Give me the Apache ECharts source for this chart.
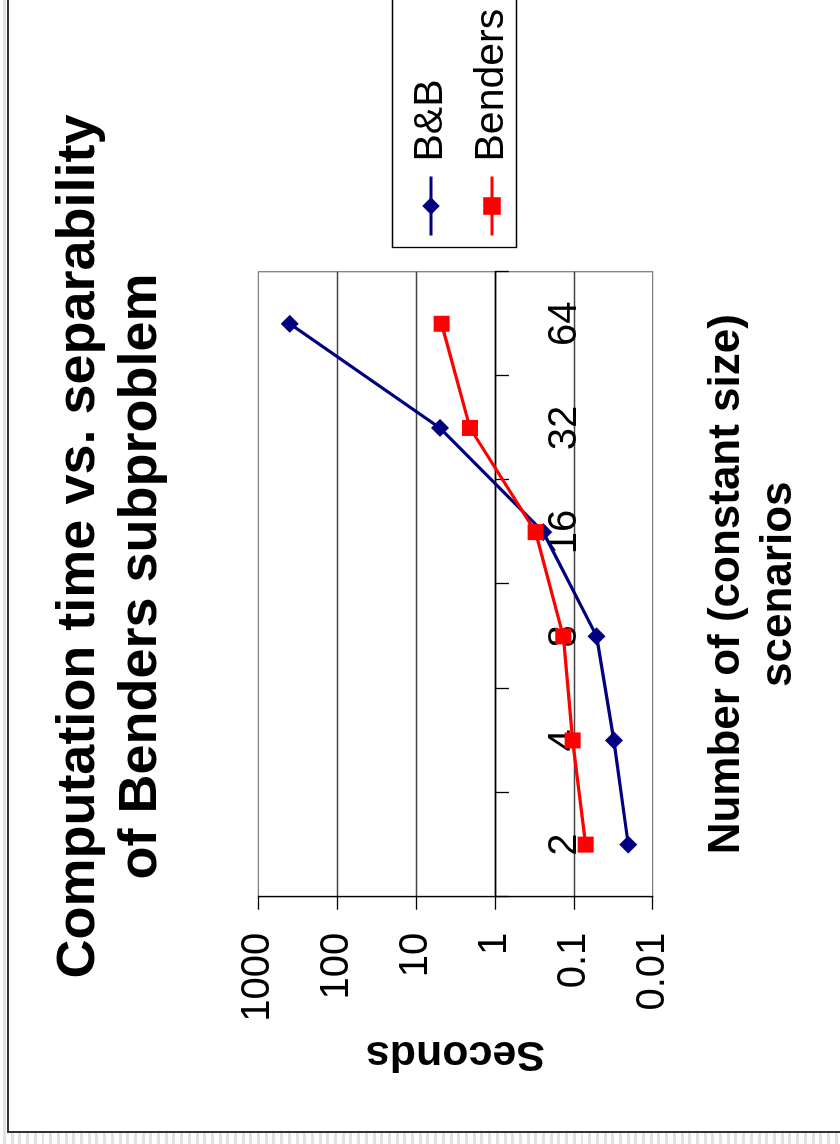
<!DOCTYPE html>
<html>
<head>
<meta charset="utf-8">
<script src="https://cdn.jsdelivr.net/npm/echarts@6/dist/echarts.min.js"></script>
<style>
  html, body { margin: 0; padding: 0; width: 840px; height: 1144px; overflow: hidden; }
  body {
    background: repeating-linear-gradient(90deg, #ffffff 0px, #ffffff 3px, #e2e2e2 3px, #e2e2e2 6px, #ffffff 6px, #ffffff 7.7px);
  }
  #chart {
    position: absolute; left: 0; top: 0;
    width: 1144px; height: 840px;
    transform-origin: 0 0;
    transform: translateY(1144px) rotate(-90deg);
  }
</style>
</head>
<body>
<div id="chart"></div>
<script>
// ---- data ----
const categories = ['2', '4', '8', '16', '32', '64'];
const bnbSeconds = [0.0204, 0.031, 0.0514, 0.244, 4.98, 398];
const bendersSeconds = [0.0708, 0.1035, 0.136, 0.305, 2.07, 4.74];
const seriesNames = ['B&B', 'Benders'];
const titleLines = ['Computation time vs. separability', 'of Benders subproblem'];
const xTitle = 'Number of (constant size)\nscenarios';
const yTitle = 'Seconds';

const FONT = '"Liberation Sans", Arial, Helvetica, sans-serif';
const chart = echarts.init(document.getElementById('chart'), null, { renderer: 'canvas' });

const gridLeft = 247.3, gridTop = 258.3, gridW = 625, gridH = 394.4;
const decadePx = gridH / 5;
const titleStyle = { fontFamily: FONT, fontSize: 54, fontWeight: 'bold', color: '#000', lineHeight: 59 };

chart.setOption({
  backgroundColor: 'transparent',
  animation: false,
  textStyle: { fontFamily: FONT },
  title: [
    { text: titleLines[0], left: 597.5, textAlign: 'center', top: 50, padding: 0, textStyle: titleStyle },
    { text: titleLines[1], left: 567.5, textAlign: 'center', top: 112, padding: 0, textStyle: titleStyle }
  ],
  graphic: [
    { type: 'rect', z: -10, silent: true,
      shape: { x: 12, y: 8, width: 1300, height: 1000 },
      style: { fill: '#ffffff', stroke: '#333333', lineWidth: 2 } },
    { type: 'rect', z: 1, silent: true,
      shape: { x: 896.5, y: 392.5, width: 400, height: 124 },
      style: { fill: '#ffffff', stroke: '#000000', lineWidth: 1.3 } }
  ],
  legend: {
    orient: 'vertical',
    left: 907,
    top: 410.5,
    padding: 0,
    itemWidth: 59,
    itemHeight: 22,
    itemGap: 20,
    z: 5,
    data: seriesNames,
    lineStyle: { width: 3 },
    textStyle: { fontFamily: FONT, fontSize: 41, color: '#000', padding: [0, 0, 0, 10] }
  },
  grid: {
    left: gridLeft, top: gridTop, width: gridW, height: gridH,
    show: true, borderColor: '#808080', borderWidth: 1.3, backgroundColor: 'transparent'
  },
  xAxis: {
    type: 'category',
    data: categories,
    boundaryGap: true,
    offset: -2 * decadePx,
    name: xTitle,
    nameLocation: 'middle',
    nameGap: 206,
    nameTextStyle: { fontFamily: FONT, fontSize: 44, fontWeight: 'bold', color: '#000', lineHeight: 52 },
    axisLine: { show: true, lineStyle: { color: '#000', width: 1.3 } },
    axisTick: { show: true, length: 14, inside: false, interval: 0, lineStyle: { color: '#000', width: 1.3 } },
    axisLabel: { fontFamily: FONT, fontSize: 40, color: '#000', margin: 50, interval: 0 },
    splitLine: { show: false }
  },
  yAxis: {
    type: 'log',
    logBase: 10,
    min: 0.01,
    max: 1000,
    name: yTitle,
    nameLocation: 'middle',
    nameRotate: 90,
    nameGap: 135,
    nameTextStyle: { fontFamily: FONT, fontSize: 43, fontWeight: 'bold', color: '#000' },
    axisLine: { show: true, lineStyle: { color: '#000', width: 1.3 } },
    axisTick: { show: true, length: 13, inside: false, lineStyle: { color: '#000', width: 1.3 } },
    axisLabel: {
      fontFamily: FONT, fontSize: 40, color: '#000', margin: 36,
      formatter: v => String(Number(Number(v).toPrecision(6)))
    },
    splitLine: { show: true, showMinLine: false, showMaxLine: false, lineStyle: { color: '#444', width: 1.3 } },
    minorTick: { show: false }
  },
  series: [
    {
      name: seriesNames[0], type: 'line', data: bnbSeconds,
      symbol: 'diamond', symbolSize: 18,
      itemStyle: { color: '#000080' },
      lineStyle: { color: '#000080', width: 3.2 },
      z: 3
    },
    {
      name: seriesNames[1], type: 'line', data: bendersSeconds,
      symbol: 'rect', symbolSize: 16,
      itemStyle: { color: '#ff0000' },
      lineStyle: { color: '#ff0000', width: 3.2 },
      z: 4
    }
  ]
});
</script>
</body>
</html>
